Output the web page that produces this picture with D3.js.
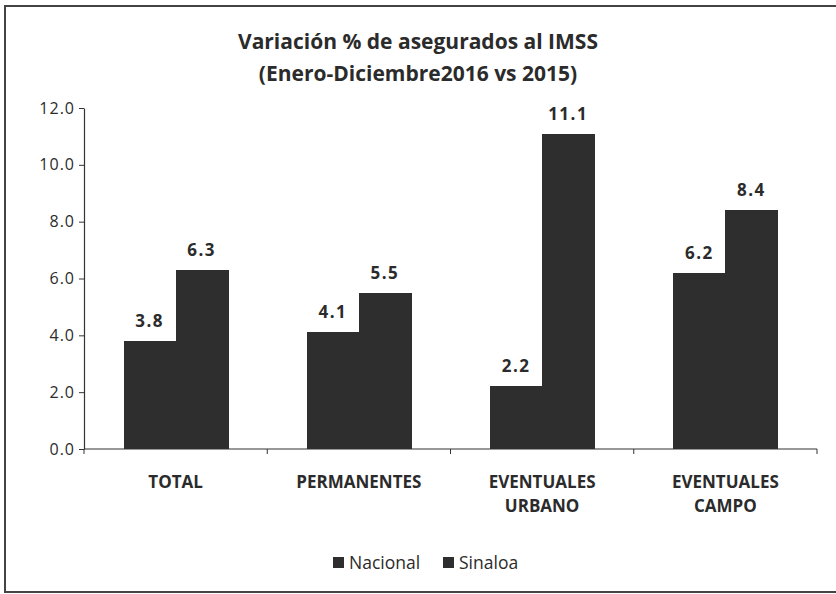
<!DOCTYPE html>
<html>
<head>
<meta charset="utf-8">
<script src="https://cdn.jsdelivr.net/npm/d3@7"></script>
<style>
  body { margin: 0; background: #fff; }
  text { font-family: "Open Sans", Lato, sans-serif; fill: #2b2b2b; }
</style>
</head>
<body>
<div id="chart"></div>
<script>
const categories = [["TOTAL"], ["PERMANENTES"], ["EVENTUALES", "URBANO"], ["EVENTUALES", "CAMPO"]];
const series = ["Nacional", "Sinaloa"];
const nacional = [3.8, 4.1, 2.2, 6.2];
const sinaloa = [6.3, 5.5, 11.1, 8.4];
const yTicks = [0, 2, 4, 6, 8, 10, 12];
const titleLines = ["Variación % de asegurados al IMSS", "(Enero-Diciembre2016 vs 2015)"];

const width = 836, height = 594;
const barColor = "#2e2e2e";

const svg = d3.select("#chart").append("svg")
    .attr("width", width)
    .attr("height", height);

// outer frame (right edge falls off the picture)
svg.append("rect")
    .attr("x", 5).attr("y", 6)
    .attr("width", 840).attr("height", 586)
    .attr("fill", "none")
    .attr("stroke", "#444")
    .attr("stroke-width", 2);

// title
svg.append("g").selectAll("text")
    .data(titleLines)
    .join("text")
    .attr("x", 418)
    .attr("y", (d, i) => 49 + i * 32)
    .attr("text-anchor", "middle")
    .style("font-size", "21px")
    .style("font-weight", "bold")
    .text(d => d);

const x0 = d3.scaleBand()
    .domain(d3.range(categories.length))
    .range([84, 817])
    .padding(0);

const x1 = d3.scaleBand()
    .domain(series)
    .range([39.6, x0.bandwidth() - 39.6])
    .padding(0);

const y = d3.scaleLinear()
    .domain([0, 12])
    .range([449, 108]);

// y axis
const yAxis = svg.append("g")
    .attr("transform", "translate(84,0)")
    .call(d3.axisLeft(y).tickValues(yTicks).tickFormat(d3.format(".1f")).tickSize(5).tickSizeOuter(0));
yAxis.select(".domain").attr("stroke", "#333").attr("stroke-width", 1.2);
yAxis.selectAll(".tick line").attr("stroke", "#333");
yAxis.selectAll(".tick text")
    .attr("x", -9)
    .style("font-size", "16px")
    .style("letter-spacing", "1px")
    .style("font-family", "'Open Sans', Lato, sans-serif")
    .attr("fill", "#2b2b2b");

// x axis
const xAxis = svg.append("g")
    .attr("transform", "translate(0,449)");
xAxis.append("line")
    .attr("x1", 84).attr("x2", 817)
    .attr("stroke", "#333").attr("stroke-width", 1.2);
xAxis.selectAll(".xt")
    .data(d3.range(categories.length + 1))
    .join("line")
    .attr("class", "xt")
    .attr("x1", i => i < categories.length ? x0(i) : x0(i - 1) + x0.bandwidth())
    .attr("x2", i => i < categories.length ? x0(i) : x0(i - 1) + x0.bandwidth())
    .attr("y1", 0).attr("y2", 5)
    .attr("stroke", "#333");

const catLabels = svg.append("g").selectAll("text")
    .data(categories)
    .join("text")
    .attr("x", (d, i) => x0(i) + x0.bandwidth() / 2)
    .attr("y", 488)
    .attr("text-anchor", "middle")
    .style("font-size", "17px")
    .style("font-weight", "bold");
catLabels.selectAll("tspan")
    .data(d => d)
    .join("tspan")
    .attr("x", function() { return d3.select(this.parentNode).attr("x"); })
    .attr("dy", (d, i) => i === 0 ? 0 : 24)
    .text(d => d);

// bars
const rows = categories.map((c, i) => ({ i, values: [
    { key: "Nacional", value: nacional[i] },
    { key: "Sinaloa", value: sinaloa[i] }
] }));

const groups = svg.append("g").selectAll("g")
    .data(rows)
    .join("g")
    .attr("transform", d => `translate(${x0(d.i)},0)`);

groups.selectAll("rect")
    .data(d => d.values)
    .join("rect")
    .attr("x", d => x1(d.key))
    .attr("y", d => y(d.value))
    .attr("width", x1.bandwidth() + 1)
    .attr("height", d => y(0) - y(d.value))
    .attr("fill", barColor)
    .attr("shape-rendering", "crispEdges");

groups.selectAll("text")
    .data(d => d.values)
    .join("text")
    .attr("x", d => x1(d.key) + x1.bandwidth() / 2)
    .attr("y", d => y(d.value) - 14)
    .attr("text-anchor", "middle")
    .style("font-size", "17px")
    .style("font-weight", "bold")
    .style("letter-spacing", "1.5px")
    .text(d => d3.format(".1f")(d.value));

// legend
const legend = svg.append("g");
const legendX = [333, 443];
series.forEach((s, i) => {
    legend.append("rect")
        .attr("x", legendX[i]).attr("y", 557)
        .attr("width", 11).attr("height", 11)
        .attr("fill", barColor);
    legend.append("text")
        .attr("x", legendX[i] + 16).attr("y", 569)
        .style("font-size", "17.5px")
        .text(s);
});
</script>
</body>
</html>
